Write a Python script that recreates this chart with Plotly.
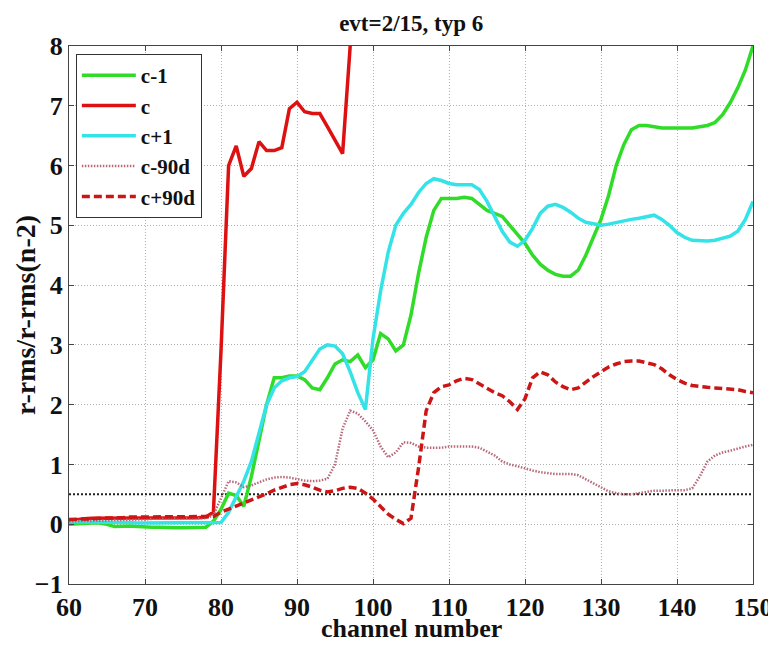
import plotly.graph_objects as go

channels = list(range(60, 151))

c_minus1 = [0.00, 0.01, 0.02, 0.02, 0.02, 0.00, -0.04, -0.03, -0.03, -0.04,
            -0.05, -0.05, -0.05, -0.06, -0.06, -0.06, -0.06, -0.05, -0.05, 0.05,
            0.25, 0.52, 0.48, 0.30, 0.80, 1.40, 2.00, 2.45, 2.45, 2.48,
            2.48, 2.42, 2.28, 2.25, 2.45, 2.68, 2.75, 2.72, 2.83, 2.62,
            2.75, 3.19, 3.10, 2.90, 3.00, 3.50, 4.20, 4.80, 5.25, 5.45,
            5.45, 5.45, 5.47, 5.45, 5.35, 5.25, 5.20, 5.15, 5.00, 4.85,
            4.70, 4.50, 4.35, 4.25, 4.18, 4.15, 4.15, 4.25, 4.50, 4.80,
            5.10, 5.50, 6.00, 6.35, 6.60, 6.67, 6.67, 6.65, 6.63, 6.63,
            6.63, 6.63, 6.63, 6.65, 6.67, 6.72, 6.85, 7.05, 7.30, 7.60,
            8.00]

c_center_x = list(range(60, 99))
c_center = [0.06, 0.08, 0.09, 0.10, 0.10, 0.10, 0.11, 0.11, 0.11, 0.11,
            0.11, 0.11, 0.11, 0.11, 0.11, 0.11, 0.11, 0.11, 0.12, 0.20,
            2.90, 6.00, 6.33, 5.82, 5.95, 6.40, 6.25, 6.25, 6.30, 6.95,
            7.06, 6.90, 6.87, 6.87, 6.65, 6.43, 6.20, 8.00, 9.80]

c_plus1 = [0.04, 0.04, 0.04, 0.03, 0.03, 0.03, 0.03, 0.03, 0.03, 0.02,
           0.02, 0.02, 0.02, 0.02, 0.02, 0.02, 0.02, 0.02, 0.03, 0.03,
           0.03, 0.20, 0.45, 0.72, 1.05, 1.50, 2.00, 2.28, 2.40, 2.45,
           2.47, 2.55, 2.75, 2.93, 3.00, 2.98, 2.85, 2.55, 2.20, 1.92,
           3.10, 3.90, 4.55, 5.00, 5.20, 5.35, 5.55, 5.70, 5.78, 5.75,
           5.70, 5.68, 5.68, 5.68, 5.60, 5.40, 5.15, 4.90, 4.72, 4.65,
           4.75, 4.95, 5.20, 5.32, 5.35, 5.30, 5.22, 5.12, 5.05, 5.02,
           5.00, 5.02, 5.05, 5.08, 5.10, 5.12, 5.15, 5.17, 5.10, 5.00,
           4.88, 4.80, 4.75, 4.74, 4.74, 4.75, 4.78, 4.82, 4.90, 5.10,
           5.40]

c_minus90d = [0.05, 0.05, 0.05, 0.06, 0.06, 0.06, 0.07, 0.07, 0.08, 0.08,
              0.08, 0.09, 0.09, 0.09, 0.10, 0.10, 0.10, 0.10, 0.10, 0.15,
              0.45, 0.72, 0.70, 0.62, 0.65, 0.70, 0.75, 0.78, 0.79, 0.78,
              0.75, 0.73, 0.72, 0.73, 0.76, 1.00, 1.60, 1.90, 1.85, 1.72,
              1.57, 1.30, 1.12, 1.20, 1.37, 1.36, 1.30, 1.28, 1.28, 1.28,
              1.30, 1.30, 1.30, 1.30, 1.28, 1.22, 1.15, 1.05, 1.00, 0.97,
              0.93, 0.90, 0.87, 0.85, 0.84, 0.84, 0.84, 0.82, 0.75, 0.68,
              0.62, 0.55, 0.52, 0.50, 0.50, 0.52, 0.54, 0.56, 0.56, 0.57,
              0.57, 0.57, 0.60, 0.80, 1.05, 1.15, 1.20, 1.23, 1.27, 1.30,
              1.33]

c_plus90d = [0.08, 0.08, 0.09, 0.09, 0.10, 0.10, 0.11, 0.11, 0.12, 0.12,
             0.12, 0.12, 0.12, 0.12, 0.12, 0.12, 0.12, 0.12, 0.12, 0.13,
             0.20, 0.25, 0.30, 0.35, 0.40, 0.46, 0.51, 0.57, 0.62, 0.66,
             0.68, 0.66, 0.62, 0.57, 0.54, 0.56, 0.60, 0.62, 0.60, 0.52,
             0.42, 0.30, 0.17, 0.08, 0.01, 0.10, 0.95, 1.90, 2.20, 2.30,
             2.33, 2.40, 2.44, 2.42, 2.35, 2.28, 2.20, 2.15, 2.05, 1.92,
             2.10, 2.45, 2.55, 2.50, 2.38, 2.30, 2.25, 2.28, 2.38, 2.47,
             2.55, 2.63, 2.68, 2.72, 2.73, 2.73, 2.70, 2.67, 2.60, 2.50,
             2.42, 2.36, 2.32, 2.30, 2.29, 2.28, 2.27, 2.26, 2.25, 2.22,
             2.20]

threshold = 0.5
x_range = [60, 150]
y_range = [-1, 8]
x_ticks = [60, 70, 80, 90, 100, 110, 120, 130, 140, 150]
y_ticks = [-1, 0, 1, 2, 3, 4, 5, 6, 7, 8]

FONT = "Liberation Serif, Times New Roman, serif"
INK = "#111111"

# the page body adds an 8px offset, so the figure is sized 8px smaller
W, H = 768, 637

fig = go.Figure()

fig.add_trace(go.Scatter(x=x_range, y=[threshold, threshold], mode="lines",
                         line=dict(color="#222222", width=2, dash="2px,2px"),
                         showlegend=False, hoverinfo="skip"))

fig.add_trace(go.Scatter(x=channels, y=c_minus1, mode="lines", name="c-1",
                         line=dict(color="#30dc28", width=3.5)))
fig.add_trace(go.Scatter(x=c_center_x, y=c_center, mode="lines", name="c",
                         line=dict(color="#dd1111", width=3.5)))
fig.add_trace(go.Scatter(x=channels, y=c_plus1, mode="lines", name="c+1",
                         line=dict(color="#33e3e8", width=3.5)))
fig.add_trace(go.Scatter(x=channels, y=c_minus90d, mode="lines", name="c-90d",
                         line=dict(color="#b86878", width=2.5, dash="1.5px,1.5px")))
fig.add_trace(go.Scatter(x=channels, y=c_plus90d, mode="lines", name="c+90d",
                         line=dict(color="#cc1515", width=3.5, dash="8px,4px")))

axis_common = dict(
    showline=True, linecolor="#444444", linewidth=1.2, mirror="allticks",
    ticks="inside", ticklen=5, tickcolor="#444444",
    showgrid=True, gridcolor="#b0b0b0", griddash="1px,2px", gridwidth=1,
    zeroline=False, automargin=False,
    tickfont=dict(family=FONT, size=26, color=INK, weight="bold"),
)

fig.update_layout(
    width=W, height=H,
    margin=dict(l=61, r=23, t=38, b=61),
    paper_bgcolor="white", plot_bgcolor="white",
    title=dict(text="<b>evt=2/15, typ 6</b>", x=0.525, xanchor="center",
               y=1 - 15 / H, yanchor="middle",
               font=dict(family=FONT, size=23, color=INK)),
    xaxis=dict(range=x_range, tickvals=x_ticks, **axis_common),
    yaxis=dict(range=y_range, tickvals=y_ticks, **axis_common),
    legend=dict(x=0.01, y=0.985, xanchor="left", yanchor="top",
                bgcolor="white", bordercolor="#333333", borderwidth=1,
                font=dict(family=FONT, size=21, color=INK, weight="bold"),
                tracegroupgap=0, itemwidth=54),
    showlegend=True,
    annotations=[
        dict(text="<b>channel number</b>", xref="paper", yref="paper",
             x=0.5, y=-(628 - 584) / 538, xanchor="center", yanchor="middle",
             showarrow=False, font=dict(family=FONT, size=26, color=INK)),
        dict(text="<b>r-rms/r-rms(n-2)</b>", xref="paper", yref="paper",
             x=-(69 - 25) / 684, y=0.5, xanchor="center", yanchor="middle",
             textangle=-90, showarrow=False,
             font=dict(family=FONT, size=28, color=INK)),
    ],
)

fig.write_html("out.html")
